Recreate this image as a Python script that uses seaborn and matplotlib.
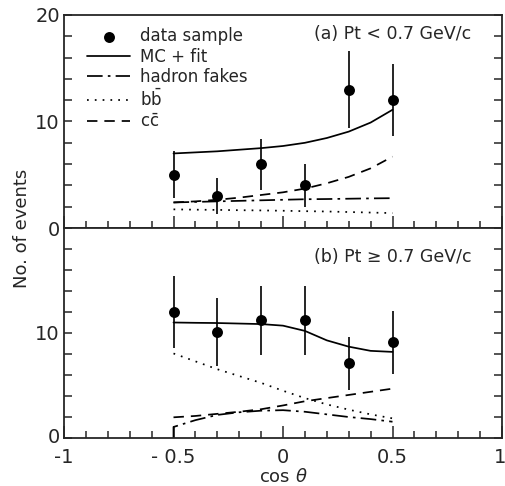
import numpy as np
import pandas as pd
import matplotlib
matplotlib.use("Agg")
import matplotlib.pyplot as plt
import matplotlib.transforms as mtransforms
import seaborn as sns
from matplotlib.ticker import MultipleLocator, FixedLocator

# ---- data ----
x_pts = [-0.5, -0.3, -0.1, 0.1, 0.3, 0.5]
a_y = [5.0, 3.0, 6.0, 4.0, 13.0, 12.0]
a_err = [2.2, 1.7, 2.4, 2.0, 3.6, 3.4]
b_y = [12.0, 10.1, 11.2, 11.2, 7.1, 9.1]
b_err = [3.45, 3.2, 3.3, 3.3, 2.5, 3.0]

x_curve = [-0.5, -0.4, -0.3, -0.2, -0.1, 0.0, 0.1, 0.2, 0.3, 0.4, 0.5]
a_mc = [7.0, 7.1, 7.2, 7.35, 7.5, 7.7, 8.0, 8.45, 9.05, 9.9, 11.1]
a_had = [2.4, 2.45, 2.5, 2.55, 2.6, 2.65, 2.7, 2.72, 2.75, 2.78, 2.8]
a_bb = [1.75, 1.72, 1.7, 1.67, 1.65, 1.62, 1.58, 1.55, 1.5, 1.45, 1.4]
a_cc = [2.4, 2.5, 2.65, 2.85, 3.1, 3.35, 3.7, 4.2, 4.8, 5.6, 6.7]

b_mc = [11.0, 10.97, 10.95, 10.9, 10.85, 10.7, 10.2, 9.3, 8.7, 8.3, 8.2]
b_had_x = [-0.5, -0.5, -0.4, -0.3, -0.2, -0.1, 0.0, 0.1, 0.2, 0.3, 0.4, 0.5]
b_had = [0.0, 1.05, 1.7, 2.2, 2.45, 2.6, 2.65, 2.5, 2.25, 2.0, 1.8, 1.55]
b_bb = [8.05, 7.3, 6.55, 5.9, 5.25, 4.5, 3.8, 3.2, 2.7, 2.25, 1.87]
b_cc = [1.97, 2.1, 2.3, 2.5, 2.74, 3.1, 3.5, 3.8, 4.1, 4.4, 4.7]

labels = ["data sample", "MC + fit", "hadron fakes", r"b$\bar{\rm b}$", r"c$\bar{\rm c}$"]
xtick_vals = [-1, -0.5, 0, 0.5, 1]
xtick_labels = ["-1", "- 0.5", "0", "0.5", "1"]

sns.set_style("ticks")
plt.rcParams['font.family'] = ['DejaVu Sans']
plt.rcParams['mathtext.fontset'] = 'dejavusans'

fig = plt.figure(figsize=(5.05, 4.86), dpi=100)
L, R = 64 / 505, 502 / 505
top, mid, bot = 1 - 15 / 486, 1 - 228 / 486, 1 - 438 / 486
ax1 = fig.add_axes([L, mid, R - L, top - mid])
ax2 = fig.add_axes([L, bot, R - L, mid - bot], sharex=ax1)

fs = 12
lw = 1.25
styles = dict(
    mc=dict(color="black", lw=lw, linestyle="-"),
    had=dict(color="black", lw=lw, linestyle=(0, (9, 3, 1.5, 3))),
    bb=dict(color="black", lw=lw, linestyle=(0, (1, 3.5))),
    cc=dict(color="black", lw=lw, linestyle=(0, (6, 4))),
)

def draw(ax, y, err, mc, hadx, had, bb, cc, legend=False):
    sns.lineplot(x=x_curve, y=mc, ax=ax, sort=False, estimator=None, label=labels[1] if legend else None, **styles["mc"])
    sns.lineplot(x=hadx, y=had, ax=ax, sort=False, estimator=None, label=labels[2] if legend else None, **styles["had"])
    sns.lineplot(x=x_curve, y=bb, ax=ax, sort=False, estimator=None, label=labels[3] if legend else None, **styles["bb"])
    sns.lineplot(x=x_curve, y=cc, ax=ax, sort=False, estimator=None, label=labels[4] if legend else None, **styles["cc"])
    ax.errorbar(x_pts, y, yerr=err, fmt="none", ecolor="black", elinewidth=1.2, capsize=0)
    sns.scatterplot(x=x_pts, y=y, ax=ax, color="black", s=62, edgecolor="black", linewidth=0,
                    label=labels[0] if legend else None, zorder=5)

draw(ax1, a_y, a_err, a_mc, x_curve, a_had, a_bb, a_cc, legend=True)
draw(ax2, b_y, b_err, b_mc, b_had_x, b_had, b_bb, b_cc)

for ax in (ax1, ax2):
    ax.set_xlim(-1, 1)
    ax.set_ylim(0, 20)
    for s in ax.spines.values():
        s.set_linewidth(1.3)
        s.set_visible(True)
    ax.xaxis.set_major_locator(FixedLocator(xtick_vals))
    ax.xaxis.set_minor_locator(MultipleLocator(0.1))
    ax.yaxis.set_major_locator(MultipleLocator(10))
    ax.yaxis.set_minor_locator(MultipleLocator(2))
    ax.tick_params(axis="both", which="both", direction="in", width=1.1,
                   left=True, right=True, top=False, bottom=True, labelsize=fs + 2)
    ax.tick_params(axis="x", which="major", length=9)
    ax.tick_params(axis="x", which="minor", length=5)
    ax.tick_params(axis="y", which="both", length=6)
    ax.tick_params(axis="y", pad=3)
    ax.set_ylabel("")
    ax.set_xlabel("")

ax1.tick_params(axis="x", labelbottom=False)
ax2.yaxis.set_major_locator(FixedLocator([0, 10]))
ax2.set_xticklabels(xtick_labels)
ax2.tick_params(axis="x", pad=7)
tl = ax2.get_xticklabels()
tl[-1].set_horizontalalignment("right")
tl[-1].set_transform(tl[-1].get_transform() + mtransforms.ScaledTranslation(4 / 100, 0, fig.dpi_scale_trans))
yl = ax2.get_yticklabels()
yl[0].set_transform(yl[0].get_transform() + mtransforms.ScaledTranslation(0, 3 / 100, fig.dpi_scale_trans))

ax1.text(0.86, 18.2, "(a) Pt < 0.7 GeV/c", fontsize=fs + 0.5, ha="right", va="center")
ax2.text(0.86, 17.2, "(b) Pt \u2265 0.7 GeV/c", fontsize=fs + 0.5, ha="right", va="center")

h, l = ax1.get_legend_handles_labels()
order = [l.index(t) for t in labels]
ax1.legend([h[i] for i in order], [l[i] for i in order], loc="upper left",
           bbox_to_anchor=(0.03, 0.99), frameon=False, fontsize=fs,
           handlelength=2.6, handletextpad=0.6, labelspacing=0.15, borderaxespad=0.2)

fig.text(22 / 505, 1 - 228 / 486, "No. of events", rotation=90, fontsize=fs + 1, ha="center", va="center")
ax2.set_xlabel(r"cos $\theta$", fontsize=fs + 1, labelpad=1)

fig.savefig("out.png", dpi=100)
